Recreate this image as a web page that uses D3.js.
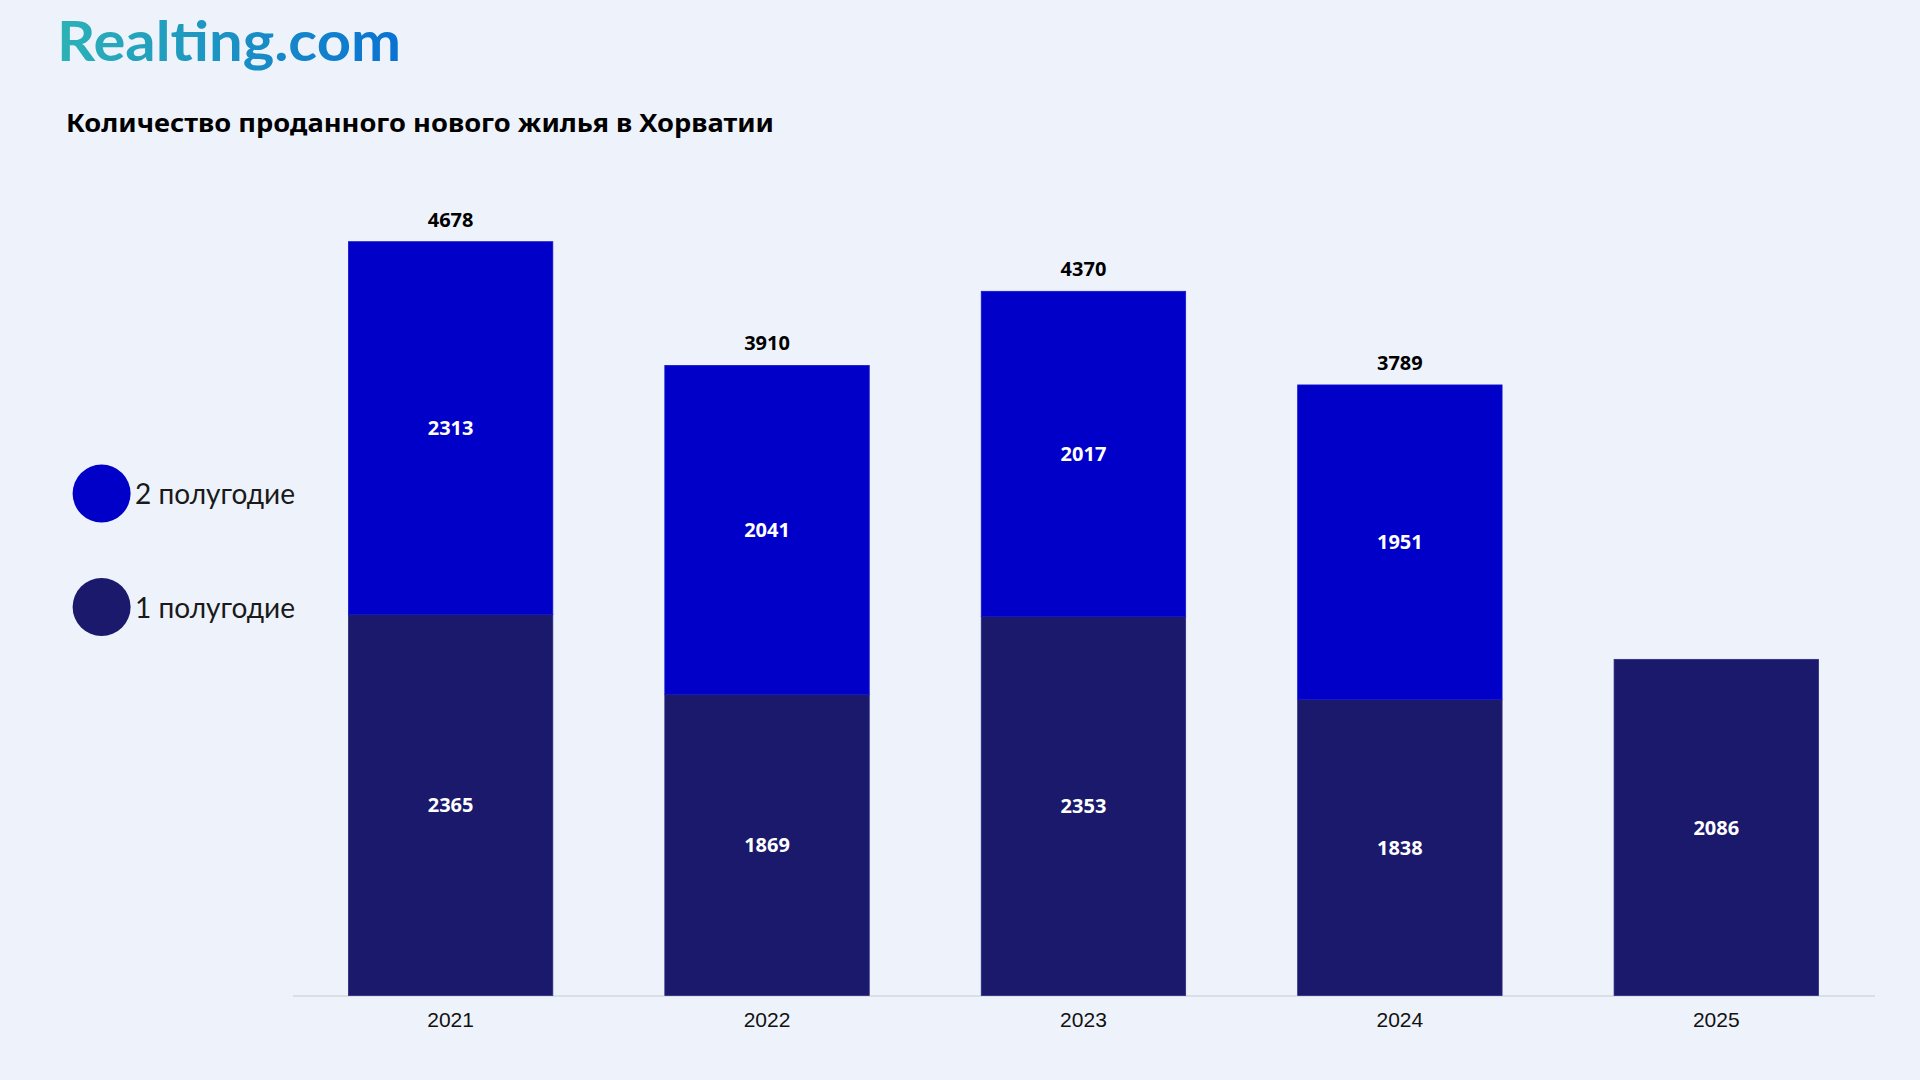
<!DOCTYPE html>
<html><head><meta charset="utf-8">
<script src="https://cdn.jsdelivr.net/npm/d3@7"></script>
<style>
html,body{margin:0;padding:0;background:#eef3fb;}
svg{display:block;}
</style></head>
<body>
<svg id="chart" width="1920" height="1080"></svg>
<script>
const years = ["2021","2022","2023","2024","2025"];
const half1 = [2365, 1869, 2353, 1838, 2086];
const half2 = [2313, 2041, 2017, 1951, null];
const seriesNames = ["2 полугодие", "1 полугодие"];
const colors = {h1:"#1b196c", h2:"#0000c8"};

const svg = d3.select("#chart");
svg.append("rect").attr("width",1920).attr("height",1080).attr("fill","#eef3fb");

// logo
const defs = svg.append("defs");
const grad = defs.append("linearGradient").attr("id","lg").attr("x1","0").attr("x2","1").attr("y1","0").attr("y2","0");
grad.append("stop").attr("offset","0%").attr("stop-color","#2cb2b6");
grad.append("stop").attr("offset","100%").attr("stop-color","#0a72d2");
svg.append("text").attr("x",57).attr("y",61).attr("font-family","Lato, 'Open Sans', sans-serif")
  .attr("font-weight",700).attr("font-size",56).attr("fill","url(#lg)")
  .attr("textLength",344).attr("lengthAdjust","spacingAndGlyphs").text("Realting.com");

// title
svg.append("text").attr("x",66).attr("y",132).attr("font-family","'Noto Sans', sans-serif")
  .attr("font-weight",700).attr("font-size",25).attr("fill","#000")
  .attr("textLength",708).attr("lengthAdjust","spacingAndGlyphs")
  .text("Количество проданного нового жилья в Хорватии");

const x = d3.scaleBand().domain(years).range([292.4, 1874.5]).paddingInner(0.354).paddingOuter(0.177);
const y = d3.scaleLinear().domain([0, 5000]).range([995.5, 995.5 - 5000*0.16114]);

// axis
const ax = svg.append("g").attr("transform",`translate(0,${y(0)})`)
  .call(d3.axisBottom(x).tickSize(0).tickPadding(17));
ax.select(".domain").attr("stroke","#d3d7de").attr("stroke-width",1.5);
ax.selectAll("text").attr("font-family","'Liberation Sans', Arial, sans-serif")
  .attr("font-size",21).attr("fill","#111");

const data = years.map((yr,i)=>({yr, h1:half1[i], h2:half2[i]}));
const g = svg.append("g");
// bottom
g.selectAll(".b1").data(data).join("rect")
  .attr("x",d=>x(d.yr)).attr("width",x.bandwidth())
  .attr("y",d=>y(d.h1)).attr("height",d=>y(0)-y(d.h1))
  .attr("fill",colors.h1).attr("stroke","#2b2a80").attr("stroke-width",0.8);
// top
g.selectAll(".b2").data(data.filter(d=>d.h2!=null)).join("rect")
  .attr("x",d=>x(d.yr)).attr("width",x.bandwidth())
  .attr("y",d=>y(d.h1+d.h2)).attr("height",d=>y(d.h1)-y(d.h1+d.h2))
  .attr("fill",colors.h2).attr("stroke","#1414d0").attr("stroke-width",0.8);

const lf = "'Noto Sans', sans-serif";
// inner labels
g.selectAll(".l1").data(data).join("text")
  .attr("x",d=>x(d.yr)+x.bandwidth()/2).attr("y",d=>(y(0)+y(d.h1))/2)
  .attr("dy","0.36em").attr("text-anchor","middle").attr("font-family",lf)
  .attr("font-weight",700).attr("font-size",20).attr("fill","#fff").text(d=>d.h1);
g.selectAll(".l2").data(data.filter(d=>d.h2!=null)).join("text")
  .attr("x",d=>x(d.yr)+x.bandwidth()/2).attr("y",d=>(y(d.h1)+y(d.h1+d.h2))/2)
  .attr("dy","0.36em").attr("text-anchor","middle").attr("font-family",lf)
  .attr("font-weight",700).attr("font-size",20).attr("fill","#fff").text(d=>d.h2);
// totals
g.selectAll(".lt").data(data.filter(d=>d.h2!=null)).join("text")
  .attr("x",d=>x(d.yr)+x.bandwidth()/2).attr("y",d=>y(d.h1+d.h2)-15)
  .attr("text-anchor","middle").attr("font-family",lf)
  .attr("font-weight",700).attr("font-size",20).attr("fill","#000").text(d=>d.h1+d.h2);

// legend
const leg = [{name:seriesNames[0], c:colors.h2, cy:493.5},{name:seriesNames[1], c:colors.h1, cy:607}];
const lg = svg.append("g");
lg.selectAll("circle").data(leg).join("circle").attr("cx",101.6).attr("cy",d=>d.cy).attr("r",29).attr("fill",d=>d.c);
lg.selectAll("text").data(leg).join("text").attr("x",135).attr("y",d=>d.cy+1).attr("dy","0.35em")
  .attr("font-family","Lato, sans-serif").attr("font-weight",400).attr("font-size",28).attr("fill","#1a1a1a")
  .attr("textLength",160).attr("lengthAdjust","spacingAndGlyphs").text(d=>d.name);
</script>
</body></html>
